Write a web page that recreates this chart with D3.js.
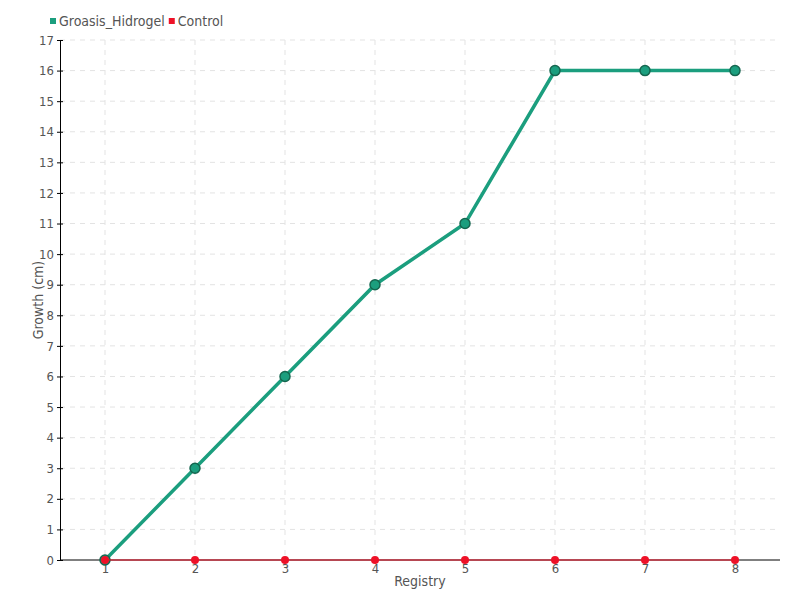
<!DOCTYPE html>
<html><head><meta charset="utf-8">
<script src="https://cdn.jsdelivr.net/npm/d3@7"></script>
<style>
body{margin:0;background:#fff;}
text{font-family:"Liberation Sans Narrow","DejaVu Sans Condensed",sans-serif;fill:#555;}
</style></head>
<body><svg id="c" width="800" height="600"></svg>
<script>
const registry=[1,2,3,4,5,6,7,8];
const groasis=[0,3,6,9,11,16,16,16];
const control=[0,0,0,0,0,0,0,0];
const yTicks=d3.range(0,18);
const seriesNames=["Groasis_Hidrogel","Control"];
const colors=["#1b9e7e","#ee1127"];

const svg=d3.select("#c");
const m={l:60,r:20,t:40,b:40};
const W=800,H=600;
const x=d3.scalePoint().domain(registry).range([m.l,W-m.r]).padding(0.5);
const y=d3.scaleLinear().domain([0,17]).range([H-m.b,m.t]);

// grid
svg.append("g").selectAll("line").data(yTicks.slice(1)).join("line")
 .attr("x1",m.l).attr("x2",W-m.r).attr("y1",d=>y(d)).attr("y2",d=>y(d))
 .attr("stroke","#e3e3e3").attr("stroke-dasharray","5,5");
svg.append("g").selectAll("line").data(registry).join("line")
 .attr("x1",d=>x(d)).attr("x2",d=>x(d)).attr("y1",m.t).attr("y2",H-m.b)
 .attr("stroke","#e3e3e3").attr("stroke-dasharray","5,5");

// axes
const ya=svg.append("g").attr("transform",`translate(${m.l},0)`)
 .call(d3.axisLeft(y).tickValues(yTicks).tickFormat(d3.format("d")).tickSize(0).tickPadding(6));
ya.select(".domain").attr("stroke","#000");
ya.selectAll(".tick line").attr("x1",-3).attr("x2",3).attr("stroke","#000");
ya.selectAll("text").style("font-size","13px").attr("fill","#555");
const xa=svg.append("g").attr("transform",`translate(0,${H-m.b})`)
 .call(d3.axisBottom(x).tickSize(0).tickPadding(4));
xa.select(".domain").attr("stroke","#000").attr("d",`M${m.l},0H${W-m.r}`);
xa.selectAll("text").style("font-size","13px").attr("fill","#555");

svg.append("text").attr("x",(m.l+W-m.r)/2).attr("y",586).attr("text-anchor","middle")
 .style("font-size","14px").text("Registry");
svg.append("text").attr("transform",`translate(43,${(m.t+H-m.b)/2}) rotate(-90)`)
 .attr("text-anchor","middle").style("font-size","14px").text("Growth (cm)");

// lines
const line=d3.line().x((d,i)=>x(registry[i])).y(d=>y(d));
svg.append("path").datum(groasis).attr("d",line).attr("fill","none")
 .attr("stroke",colors[0]).attr("stroke-width",3.5);
svg.append("g").selectAll("circle").data(groasis).join("circle")
 .attr("cx",(d,i)=>x(registry[i])).attr("cy",d=>y(d)).attr("r",5)
 .attr("fill",colors[0]).attr("stroke","#15664f").attr("stroke-width",1.5);
svg.append("path").datum(control).attr("d",line).attr("fill","none")
 .attr("stroke",colors[1]).attr("stroke-width",1.2);
svg.append("g").selectAll("circle").data(control).join("circle")
 .attr("cx",(d,i)=>x(registry[i])).attr("cy",d=>y(d)).attr("r",4)
 .attr("fill",colors[1]);

// legend
const lg=svg.append("g");
let lx=50;
seriesNames.forEach((n,i)=>{
 lg.append("rect").attr("x",lx).attr("y",18).attr("width",6).attr("height",6).attr("fill",colors[i]);
 const t=lg.append("text").attr("x",lx+9).attr("y",26).style("font-size","14px").text(n);
 lx+=t.node().getComputedTextLength()+13;
});
</script></body></html>
